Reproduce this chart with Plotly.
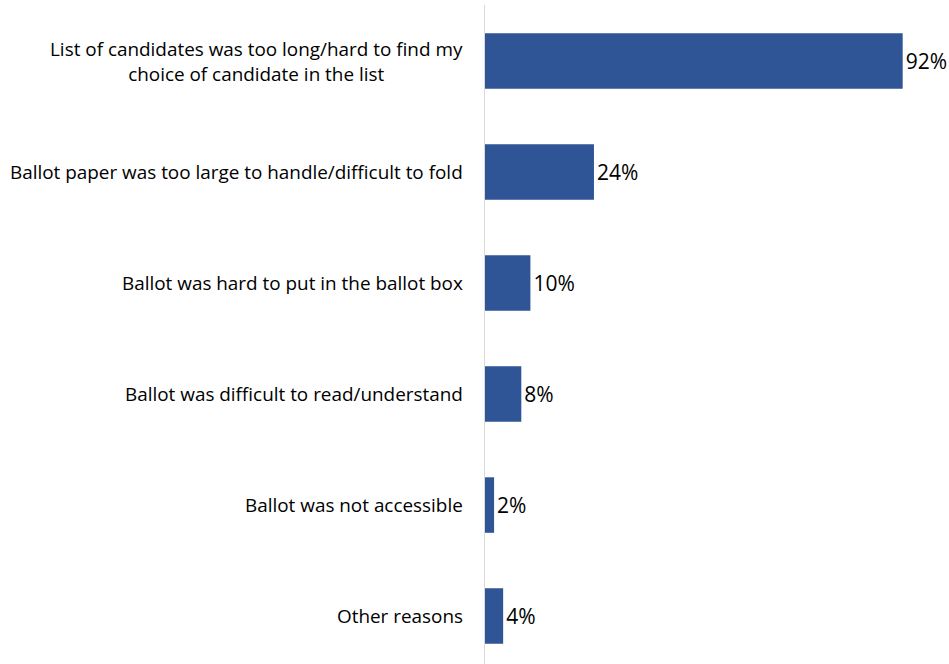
import plotly.graph_objects as go

categories = [
    "List of candidates was too long/hard to find my<br>choice of candidate in the list",
    "Ballot paper was too large to handle/difficult to fold",
    "Ballot was hard to put in the ballot box",
    "Ballot was difficult to read/understand",
    "Ballot was not accessible",
    "Other reasons",
]
values = [92, 24, 10, 8, 2, 4]
labels = [f"{v}%" for v in values]

BAR_COLOR = "#2F5597"
FONT = "Open Sans"

fig = go.Figure(
    go.Bar(
        x=values,
        y=list(range(len(categories))),
        orientation="h",
        marker=dict(color=BAR_COLOR, line=dict(width=0)),
        width=0.5,
        text=labels,
        textposition="outside",
        textfont=dict(family=FONT, size=21, color="#000000"),
        cliponaxis=False,
        hoverinfo="skip",
    )
)

# category labels, centred per line and right-aligned to the axis
for i, cat in enumerate(categories):
    fig.add_annotation(
        x=0, xref="paper", xanchor="right", xshift=-20,
        y=i, yref="y", yanchor="middle",
        text=cat, showarrow=False, align="center",
        font=dict(family=FONT, size=18.9, color="#000000"),
    )

fig.update_layout(
    width=949,
    height=664,
    margin=dict(l=485, r=10, t=5, b=0),
    paper_bgcolor="white",
    plot_bgcolor="white",
    showlegend=False,
    xaxis=dict(range=[0, 100], visible=False, fixedrange=True),
    yaxis=dict(
        range=[5.432, -0.505],
        showticklabels=False,
        showgrid=False,
        zeroline=False,
        showline=True,
        linecolor="#d9d9d9",
        linewidth=1,
        ticks="",
        fixedrange=True,
    ),
)

fig.write_html("out.html")
